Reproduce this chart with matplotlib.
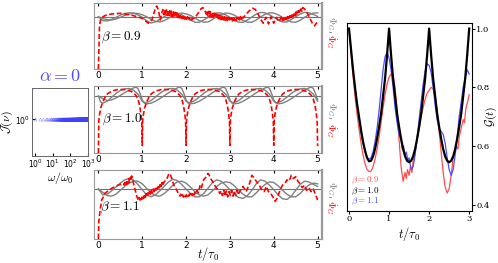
import numpy as np
import matplotlib
matplotlib.use('Agg')
import matplotlib.pyplot as plt
from matplotlib.ticker import NullLocator, FixedLocator

plt.rcParams['mathtext.fontset'] = 'cm'
plt.rcParams['font.family'] = 'DejaVu Sans'

# ---------------- data: left panel (alpha = 0 spectrum) ----------------
omega = np.arange(1, 1001)
J_level = 1.0

# ---------------- data: middle panels ----------------
t_grid = [0.0, 0.1, 0.2, 0.3, 0.4, 0.5, 0.6, 0.7, 0.8, 0.9,
          1.0, 1.1, 1.2, 1.3, 1.4, 1.5, 1.6, 1.7, 1.8, 1.9,
          2.0, 2.1, 2.2, 2.3, 2.4, 2.5, 2.6, 2.7, 2.8, 2.9,
          3.0, 3.1, 3.2, 3.3, 3.4, 3.5, 3.6, 3.7, 3.8, 3.9,
          4.0, 4.1, 4.2, 4.3, 4.4, 4.5, 4.6, 4.7, 4.8, 4.9, 5.0]

# beta = 0.9
g09_a = [0.0, -0.3, -0.33, -0.2, -0.05, 0.12, 0.25, 0.3, 0.27, 0.15,
         -0.05, -0.3, -0.48, -0.4, -0.2, 0.0, 0.2, 0.3, 0.27, 0.15,
         -0.05, -0.25, -0.42, -0.43, -0.25, -0.05, 0.18, 0.3, 0.28, 0.15,
         -0.05, -0.25, -0.42, -0.43, -0.25, -0.02, 0.2, 0.33, 0.3, 0.15,
         -0.05, -0.25, -0.4, -0.4, -0.22, 0.0, 0.2, 0.33, 0.3, 0.18, 0.02]
g09_b = [0.0, -0.15, -0.22, -0.25, -0.18, -0.05, 0.1, 0.2, 0.27, 0.25,
         0.15, 0.0, -0.2, -0.35, -0.4, -0.3, -0.12, 0.08, 0.22, 0.28,
         0.22, 0.1, -0.1, -0.3, -0.42, -0.4, -0.22, 0.0, 0.18, 0.28,
         0.25, 0.12, -0.08, -0.28, -0.42, -0.42, -0.25, -0.02, 0.18, 0.3,
         0.28, 0.15, -0.05, -0.25, -0.4, -0.42, -0.28, -0.05, 0.15, 0.28, 0.3]
t09_r = [0.0, 0.01, 0.025, 0.045, 0.08, 0.16, 0.3, 0.5, 0.75, 1.0,
         1.14, 1.22, 1.3, 1.33, 1.37, 1.41, 1.45,
         1.47, 1.49, 1.51, 1.53, 1.55, 1.57, 1.59, 1.61, 1.63, 1.65,
         1.67, 1.69, 1.71, 1.73, 1.75, 1.77, 1.79, 1.81, 1.83, 1.85,
         1.87, 1.89, 1.91, 1.93, 1.95, 1.97, 1.99, 2.01, 2.03, 2.05,
         2.07, 2.09, 2.11, 2.13, 2.15,
         2.2, 2.28, 2.34, 2.38, 2.42, 2.46,
         2.48, 2.50, 2.52, 2.54, 2.56, 2.58, 2.60, 2.62, 2.64, 2.66,
         2.68, 2.70, 2.72, 2.74, 2.76, 2.78, 2.80, 2.82, 2.84, 2.86,
         2.88, 2.90, 2.92, 2.94, 2.96, 2.98, 3.00, 3.02, 3.04, 3.06,
         3.08, 3.10, 3.12, 3.14, 3.16, 3.18, 3.20, 3.22, 3.24, 3.26,
         3.28, 3.30,
         3.36, 3.44, 3.52, 3.58, 3.65, 3.71, 3.76, 3.82, 3.88, 3.94,
         4.0, 4.06, 4.12, 4.18,
         4.20, 4.22, 4.24, 4.26, 4.28, 4.30, 4.32, 4.34, 4.36, 4.38,
         4.40, 4.42, 4.44, 4.46, 4.48, 4.50, 4.52, 4.54, 4.56, 4.58,
         4.60, 4.62, 4.64, 4.66,
         4.70, 4.76, 4.82, 4.88, 4.93, 4.97, 5.0]
y09_r = [-4.0, -2.6, -0.77, -0.3, -0.05, 0.1, 0.21, 0.26, 0.13, -0.12,
         -0.5, -0.25, 0.64, 0.82, 0.51, -0.25, 0.36,
         0.55, 0.15, 0.55, 0.12, 0.52, 0.10, 0.50, 0.08, 0.46, 0.05,
         0.42, 0.02, 0.38, 0.0, 0.34, -0.03, 0.30, -0.06, 0.25, -0.08,
         0.20, -0.12, 0.15, -0.15, 0.10, -0.18, 0.05, -0.2, 0.0, -0.22,
         -0.05, -0.24, -0.1, -0.25, -0.15,
         -0.1, 0.3, 0.6, 0.7, 0.55, 0.2,
         0.45, 0.05, 0.42, 0.02, 0.38, 0.0, 0.34, -0.05, 0.28, -0.08,
         0.22, -0.12, 0.18, -0.15, 0.12, -0.2, 0.08, -0.22, 0.04, -0.25,
         0.0, -0.28, -0.04, -0.3, -0.06, -0.32, -0.08, -0.32, -0.1, -0.32,
         -0.1, -0.3, -0.1, -0.3, -0.08, -0.28, -0.05, -0.25, 0.0, -0.2,
         0.05, -0.1,
         0.15, 0.45, 0.65, 0.55, 0.15, -0.25, -0.5, -0.05, -0.55, 0.0,
         -0.5, -0.05, -0.4, 0.05,
         -0.3, 0.0, -0.25, 0.05, -0.2, 0.1, -0.15, 0.15, -0.1, 0.2,
         -0.05, 0.25, 0.02, 0.3, 0.08, 0.35, 0.15, 0.42, 0.22, 0.5,
         0.3, 0.6, 0.4, 0.7,
         0.6, 0.3, -0.1, -0.5, -0.7, -0.5, -0.35]

# beta = 1.0
t10_a = [0.0, 0.05, 0.1, 0.2, 0.3, 0.4, 0.5, 0.6, 0.7, 0.8, 0.9, 0.95,
         1.0, 1.05, 1.1, 1.2, 1.3, 1.4, 1.5, 1.6, 1.7, 1.8, 1.9, 1.95,
         2.0, 2.05, 2.1, 2.2, 2.3, 2.4, 2.5, 2.6, 2.7, 2.8, 2.9, 2.95,
         3.0, 3.05, 3.1, 3.2, 3.3, 3.4, 3.5, 3.6, 3.7, 3.8, 3.9, 3.95,
         4.0, 4.05, 4.1, 4.2, 4.3, 4.4, 4.5, 4.6, 4.7, 4.8, 4.9, 4.95, 5.0]
g10_a = [0.0, -0.45, -0.55, -0.4, -0.1, 0.2, 0.42, 0.55, 0.58, 0.45, 0.15, -0.1,
         -0.4, -0.5, -0.5, -0.35, -0.08, 0.2, 0.42, 0.55, 0.58, 0.45, 0.15, -0.1,
         -0.4, -0.5, -0.5, -0.35, -0.08, 0.2, 0.42, 0.55, 0.58, 0.45, 0.15, -0.1,
         -0.4, -0.5, -0.5, -0.35, -0.08, 0.2, 0.42, 0.55, 0.58, 0.45, 0.15, -0.1,
         -0.4, -0.5, -0.5, -0.35, -0.08, 0.2, 0.42, 0.55, 0.58, 0.45, 0.15, -0.1, -0.4]
t10_b = [0.0, 0.1, 0.2, 0.3, 0.4, 0.5, 0.6, 0.7, 0.8, 0.85, 0.9, 0.95,
         1.0, 1.05, 1.1, 1.2, 1.3, 1.4, 1.5, 1.6, 1.7, 1.8, 1.85, 1.9, 1.95,
         2.0, 2.05, 2.1, 2.2, 2.3, 2.4, 2.5, 2.6, 2.7, 2.8, 2.85, 2.9, 2.95,
         3.0, 3.05, 3.1, 3.2, 3.3, 3.4, 3.5, 3.6, 3.7, 3.8, 3.85, 3.9, 3.95,
         4.0, 4.05, 4.1, 4.2, 4.3, 4.4, 4.5, 4.6, 4.7, 4.8, 4.85, 4.9, 4.95, 5.0]
g10_b = [0.0, -0.2, -0.35, -0.3, -0.15, 0.05, 0.25, 0.45, 0.62, 0.68, 0.6, 0.2,
         -0.3, -0.55, -0.6, -0.55, -0.4, -0.2, 0.02, 0.25, 0.45, 0.62, 0.68, 0.6, 0.2,
         -0.3, -0.55, -0.6, -0.55, -0.4, -0.2, 0.02, 0.25, 0.45, 0.62, 0.68, 0.6, 0.2,
         -0.3, -0.55, -0.6, -0.55, -0.4, -0.2, 0.02, 0.25, 0.45, 0.62, 0.68, 0.6, 0.2,
         -0.3, -0.55, -0.6, -0.55, -0.4, -0.2, 0.02, 0.25, 0.45, 0.62, 0.68, 0.6, 0.2, -0.3]
t10_r = [0.0, 0.01, 0.03, 0.06, 0.1, 0.15, 0.2, 0.3, 0.45, 0.6, 0.75, 0.85, 0.9, 0.94, 0.97, 0.99, 1.0,
         1.01, 1.03, 1.06, 1.1, 1.15, 1.2, 1.3, 1.45, 1.6, 1.75, 1.85, 1.9, 1.94, 1.97, 1.99, 2.0,
         2.01, 2.03, 2.06, 2.1, 2.15, 2.2, 2.3, 2.45, 2.6, 2.75, 2.85, 2.9, 2.94, 2.97, 2.99, 3.0,
         3.01, 3.03, 3.06, 3.1, 3.15, 3.2, 3.3, 3.45, 3.6, 3.75, 3.85, 3.9, 3.94, 3.97, 3.99, 4.0,
         4.01, 4.03, 4.06, 4.1, 4.15, 4.2, 4.3, 4.45, 4.6, 4.75, 4.85, 4.9, 4.94, 4.97, 4.99, 5.0]
y10_r = [-4.38, -1.9, -1.35, -0.85, -0.46, -0.1, 0.15, 0.38, 0.51, 0.5, 0.36, 0.08, -0.22, -0.7, -1.35, -2.0, -3.79,
         -1.9, -1.35, -0.85, -0.46, -0.1, 0.15, 0.38, 0.51, 0.5, 0.36, 0.08, -0.22, -0.7, -1.35, -2.0, -3.79,
         -1.9, -1.35, -0.85, -0.46, -0.1, 0.15, 0.38, 0.51, 0.5, 0.36, 0.08, -0.22, -0.7, -1.35, -2.0, -3.79,
         -1.9, -1.35, -0.85, -0.46, -0.1, 0.15, 0.38, 0.51, 0.5, 0.36, 0.08, -0.22, -0.7, -1.35, -2.0, -3.79,
         -1.9, -1.35, -0.85, -0.46, -0.1, 0.15, 0.38, 0.51, 0.5, 0.36, 0.08, -0.22, -0.7, -1.35, -2.0, -3.85]

# beta = 1.1
g11_a = [0.0, -0.45, -0.4, -0.15, 0.15, 0.45, 0.7, 0.8, 0.7, 0.35,
         -0.05, -0.45, -0.6, -0.45, -0.15, 0.2, 0.55, 0.75, 0.65, 0.35,
         0.0, -0.35, -0.6, -0.6, -0.35, 0.05, 0.5, 0.7, 0.6, 0.3,
         -0.05, -0.4, -0.65, -0.72, -0.5, -0.1, 0.4, 0.7, 0.6, 0.3,
         -0.05, -0.45, -0.75, -0.8, -0.55, -0.1, 0.35, 0.6, 0.55, 0.35, 0.2]
g11_b = [0.0, -0.25, -0.5, -0.55, -0.4, -0.1, 0.2, 0.45, 0.6, 0.6,
         0.4, 0.05, -0.3, -0.5, -0.55, -0.35, -0.05, 0.3, 0.55, 0.6,
         0.45, 0.15, -0.2, -0.45, -0.55, -0.45, -0.15, 0.2, 0.45, 0.55,
         0.5, 0.25, -0.1, -0.4, -0.6, -0.6, -0.3, 0.05, 0.35, 0.55,
         0.5, 0.25, -0.1, -0.4, -0.6, -0.6, -0.35, 0.0, 0.3, 0.45, 0.4]
t11_r = [0.0, 0.01, 0.04, 0.076, 0.15, 0.3, 0.45, 0.57,
         0.59, 0.61, 0.63, 0.65, 0.67, 0.69, 0.71, 0.73, 0.75, 0.76, 0.78,
         0.81, 0.84, 0.88, 0.91,
         0.93, 0.95, 0.97, 0.99, 1.01, 1.03, 1.05, 1.07, 1.09, 1.11,
         1.13, 1.15, 1.17, 1.19, 1.21, 1.23, 1.25, 1.27, 1.29, 1.31,
         1.33, 1.35, 1.37, 1.39, 1.41, 1.43, 1.45, 1.47, 1.50,
         1.55, 1.6, 1.63, 1.67, 1.72, 1.77, 1.82,
         1.84, 1.86, 1.88, 1.90, 1.92, 1.94, 1.96, 1.98, 2.00, 2.02,
         2.04, 2.06, 2.08, 2.10, 2.12, 2.14, 2.16, 2.18, 2.20, 2.22,
         2.25, 2.28, 2.32, 2.35, 2.4, 2.45, 2.5, 2.53, 2.56, 2.6,
         2.65, 2.7, 2.75, 2.77,
         2.80, 2.83, 2.86, 2.89, 2.92, 2.95, 2.98, 3.01, 3.04, 3.07,
         3.10, 3.13, 3.16, 3.19, 3.22,
         3.3, 3.37, 3.45, 3.5, 3.53, 3.6, 3.67, 3.73, 3.78, 3.83,
         3.88, 3.93, 3.98, 4.03, 4.08, 4.12, 4.16, 4.2, 4.25, 4.3,
         4.35, 4.4, 4.45, 4.5, 4.55, 4.6, 4.65, 4.7, 4.75, 4.8,
         4.85, 4.9, 4.95, 5.0]
y11_r = [-3.8, -2.5, -1.6, -0.85, -0.33, 0.05, 0.3, 0.44,
         0.3, 0.6, 0.35, 0.7, 0.4, 0.8, 0.5, 0.9, 0.65, 1.0, 0.75,
         0.3, -0.1, -0.6, -0.85,
         -0.65, -0.85, -0.6, -0.8, -0.5, -0.72, -0.45, -0.65, -0.35, -0.55,
         -0.3, -0.5, -0.2, -0.4, -0.1, -0.3, 0.0, -0.2, 0.1, -0.1,
         0.2, 0.0, 0.3, 0.1, 0.4, 0.2, 0.5, 0.3, 0.55,
         0.7, 1.1, 1.2, 0.85, 0.3, 0.0, -0.3,
         -0.4, -0.55, -0.4, -0.6, -0.45, -0.62, -0.45, -0.6, -0.45, -0.58,
         -0.4, -0.55, -0.38, -0.52, -0.35, -0.5, -0.3, -0.45, -0.25, -0.4,
         -0.1, -0.3, 0.3, 0.1, 0.7, 0.9, 1.2, 1.05, 0.8, 0.6,
         0.3, 0.05, -0.2, -0.35,
         -0.15, -0.5, -0.1, -0.55, -0.15, -0.6, -0.2, -0.5, -0.1, -0.55,
         -0.15, -0.5, -0.1, -0.45, -0.2,
         0.2, -0.2, 0.45, 1.05, 0.95, 0.6, 0.3, -0.1, -0.2, 0.2,
         -0.2, -0.35, -0.6, -0.95, -0.7, -0.3, 0.05, 0.3, 0.4, 0.7,
         0.6, 1.05, 0.8, 0.95, 0.6, 0.4, 0.1, 0.3, -0.1, 0.1,
         -0.2, 0.0, -0.4, -0.85]

# ---------------- data: right panel (G(t)) ----------------
t_G = [0.00, 0.05, 0.10, 0.15, 0.20, 0.25, 0.30, 0.35, 0.40, 0.45,
       0.50, 0.55, 0.60, 0.65, 0.70, 0.75, 0.80, 0.85, 0.90, 0.95,
       1.00, 1.05, 1.10, 1.15, 1.20, 1.25, 1.30, 1.35, 1.40, 1.45,
       1.50, 1.55, 1.60, 1.65, 1.70, 1.75, 1.80, 1.85, 1.90, 1.95,
       2.00, 2.05, 2.10, 2.15, 2.20, 2.25, 2.30, 2.35, 2.40, 2.45,
       2.50, 2.55, 2.60, 2.65, 2.70, 2.75, 2.80, 2.85, 2.90, 2.95, 3.00]
G10 = [1.00, 0.93, 0.86, 0.80, 0.745, 0.70, 0.655, 0.615, 0.585, 0.56,
       0.548, 0.55, 0.565, 0.59, 0.625, 0.665, 0.71, 0.77, 0.83, 0.91,
       1.00, 0.91, 0.83, 0.77, 0.71, 0.665, 0.625, 0.59, 0.565, 0.55,
       0.545, 0.55, 0.565, 0.59, 0.625, 0.665, 0.71, 0.77, 0.83, 0.91,
       1.00, 0.91, 0.83, 0.77, 0.71, 0.665, 0.625, 0.59, 0.565, 0.55,
       0.545, 0.55, 0.565, 0.59, 0.625, 0.665, 0.71, 0.77, 0.83, 0.91, 1.00]
t_G09 = [0.00, 0.05, 0.10, 0.15, 0.20, 0.25, 0.30, 0.35, 0.40, 0.45,
         0.50, 0.55, 0.60, 0.65, 0.70, 0.75, 0.80, 0.85, 0.90, 0.95,
         1.00, 1.05, 1.10, 1.15, 1.20, 1.25, 1.30, 1.35, 1.40, 1.43,
         1.46, 1.50, 1.53, 1.57, 1.60, 1.65, 1.70, 1.75, 1.80, 1.85,
         1.90, 1.95, 2.00, 2.05, 2.10, 2.15, 2.20, 2.25, 2.30, 2.35,
         2.40, 2.45, 2.50, 2.55, 2.60, 2.65, 2.68, 2.72, 2.75, 2.80,
         2.85, 2.88, 2.92, 2.96, 3.00]
G09 = [1.0, 0.92, 0.84, 0.77, 0.71, 0.66, 0.61, 0.57, 0.54, 0.52,
       0.513, 0.515, 0.53, 0.555, 0.59, 0.63, 0.68, 0.73, 0.775, 0.81,
       0.835, 0.845, 0.84, 0.80, 0.72, 0.62, 0.53, 0.48, 0.51, 0.49,
       0.52, 0.50, 0.53, 0.51, 0.55, 0.58, 0.62, 0.66, 0.70, 0.73,
       0.76, 0.78, 0.79, 0.80, 0.795, 0.77, 0.72, 0.65, 0.58, 0.51,
       0.46, 0.44, 0.455, 0.50, 0.56, 0.58, 0.60, 0.59, 0.63, 0.66,
       0.69, 0.68, 0.73, 0.75, 0.775]
t_G11 = [0.00, 0.05, 0.10, 0.15, 0.20, 0.25, 0.30, 0.35, 0.40, 0.45,
         0.50, 0.55, 0.60, 0.65, 0.70, 0.75, 0.80, 0.85, 0.90, 0.95,
         1.00, 1.05, 1.10, 1.15, 1.20, 1.25, 1.30, 1.33, 1.36, 1.40,
         1.43, 1.47, 1.50, 1.53, 1.57, 1.60, 1.65, 1.70, 1.75, 1.80,
         1.85, 1.90, 1.95, 2.00, 2.05, 2.10, 2.15, 2.20, 2.25, 2.30,
         2.35, 2.40, 2.45, 2.50, 2.55, 2.60, 2.65, 2.70, 2.75, 2.80,
         2.85, 2.90, 2.95, 3.00]
G11 = [1.0, 0.93, 0.86, 0.80, 0.74, 0.69, 0.645, 0.61, 0.58, 0.562,
       0.555, 0.56, 0.58, 0.615, 0.66, 0.72, 0.79, 0.86, 0.905, 0.918,
       0.90, 0.86, 0.80, 0.73, 0.68, 0.64, 0.62, 0.59, 0.60, 0.57,
       0.58, 0.55, 0.56, 0.535, 0.52, 0.53, 0.57, 0.63, 0.69, 0.75,
       0.81, 0.855, 0.88, 0.875, 0.85, 0.80, 0.74, 0.69, 0.66, 0.65,
       0.64, 0.61, 0.56, 0.52, 0.50, 0.52, 0.57, 0.63, 0.70, 0.75,
       0.80, 0.83, 0.86, 0.845]

beta_labels = [r'$\beta = 0.9$', r'$\beta = 1.0$', r'$\beta = 1.1$']

# ---------------- figure ----------------
W, H = 498, 263
fig = plt.figure(figsize=(W / 100, H / 100), dpi=100)

def rect(l, t, r, b):
    return [l / W, 1 - b / H, (r - l) / W, (b - t) / H]

blue = (0.25, 0.25, 1.0)
lblue = (0.3, 0.3, 1.0)
lred = (1.0, 0.3, 0.3)

# left panel
axL = fig.add_axes(rect(32, 88, 88, 156))
axL.plot(omega, [J_level] * len(omega), linestyle='none', marker='^', ms=2.2,
         mfc='none', mec=blue, mew=0.4, alpha=0.5)
axL.set_xscale('log')
axL.set_yscale('log')
axL.set_xlim(0.68, 1000)
axL.set_ylim(0.447, 2.0)
axL.xaxis.set_major_locator(FixedLocator([1, 10, 100, 1000]))
axL.yaxis.set_major_locator(FixedLocator([1]))
axL.xaxis.set_minor_locator(NullLocator())
axL.yaxis.set_minor_locator(NullLocator())
axL.tick_params(labelsize=5.5, length=2, direction='in', pad=1.2)
for s in axL.spines.values():
    s.set_color('0.4')
    s.set_linewidth(0.7)
fig.text(60 / W, 1 - 76 / H, r'$\alpha = 0$', color=lblue, fontsize=13,
         ha='center', va='center')
fig.text(7 / W, 1 - 122 / H, r'$\mathcal{J}(\nu)$', fontsize=8.5,
         rotation=90, ha='center', va='center')
fig.text(60 / W, 1 - 178 / H, r'$\omega/\omega_0$', fontsize=8.5,
         ha='center', va='center')

# middle panels
mid = [
    dict(box=(94, 3, 322, 69), ylim=(-4.0, 1.05), ga=(t_grid, g09_a), gb=(t_grid, g09_b),
         r=(t09_r, y09_r), lab=(0.118, 0.485), gy=(0.667, 0.42)),
    dict(box=(94, 85.5, 322, 153), ylim=(-4.38, 0.81), ga=(t10_a, g10_a), gb=(t10_b, g10_b),
         r=(t10_r, y10_r), lab=(0.123, 0.5), gy=(0.62, 0.34)),
    dict(box=(94, 170, 322, 238.5), ylim=(-3.8, 1.46), ga=(t_grid, g11_a), gb=(t_grid, g11_b),
         r=(t11_r, y11_r), lab=(0.114, 0.46), gy=(0.71, 0.46)),
]
for i, m in enumerate(mid):
    ax = fig.add_axes(rect(*m['box']))
    ax.axhline(0, color='0.45', lw=0.8, zorder=1)
    ax.plot(*m['ga'], color='0.5', lw=1.0, zorder=2)
    ax.plot(*m['gb'], color='0.5', lw=1.0, zorder=2)
    ax.plot(*m['r'], color='red', lw=1.2, dashes=(3, 1.5), zorder=3)
    ax.set_xlim(-0.1, 5.1)
    ax.set_ylim(*m['ylim'])
    ax.set_yticks([])
    ax.set_xticks([0, 1, 2, 3, 4, 5])
    ax.tick_params(axis='x', labelsize=6.5, length=2, direction='in', top=True, pad=1.5)
    for name, s in ax.spines.items():
        s.set_color('0.6')
        s.set_linewidth(0.8)
    ax.spines['right'].set_linewidth(1.6)
    ax.text(m['lab'][0], m['lab'][1], beta_labels[i], transform=ax.transAxes,
            fontsize=9.5, ha='center', va='center')
    ax.text(1.04, m['gy'][0], r'$\Phi_G$,', transform=ax.transAxes, color='0.5',
            fontsize=7, rotation=-90, ha='center', va='center')
    ax.text(1.04, m['gy'][1], r'$\dot{\Phi}_G$', transform=ax.transAxes, color='red',
            fontsize=7, rotation=-90, ha='center', va='center')
fig.text(208 / W, 1 - 254 / H, r'$t/\tau_0$', fontsize=9, ha='center', va='center')

# right panel
axR = fig.add_axes(rect(347, 22.7, 472, 210.7))
axR.plot(t_G09, G09, color=lred, lw=0.9)
axR.plot(t_G11, G11, color=lblue, lw=0.9)
axR.plot(t_G, G10, color='black', lw=1.6)
axR.set_xlim(-0.05, 3.07)
axR.set_ylim(0.38, 1.02)
axR.set_xticks([0, 1, 2, 3])
axR.set_yticks([0.4, 0.6, 0.8, 1.0])
axR.set_yticklabels(['0.4', '0.6', '0.8', '1.0'])
axR.yaxis.tick_right()
axR.tick_params(labelsize=6, length=2, direction='out', pad=1.2)
for lab in axR.get_xticklabels() + axR.get_yticklabels():
    lab.set_family('DejaVu Serif')
for s in axR.spines.values():
    s.set_linewidth(0.8)
axR.set_xlabel(r'$t/\tau_0$', fontsize=9, labelpad=1)
fig.text(491 / W, 1 - 116 / H, r'$\mathcal{G}(t)$', fontsize=8.5, rotation=90,
         ha='center', va='center')
for txt, c, yy in zip(beta_labels, [lred, 'black', lblue], [0.16, 0.105, 0.05]):
    axR.text(0.03, yy, txt, color=c, fontsize=6.5, transform=axR.transAxes,
             ha='left', va='center')

fig.savefig('out.png', dpi=100)
